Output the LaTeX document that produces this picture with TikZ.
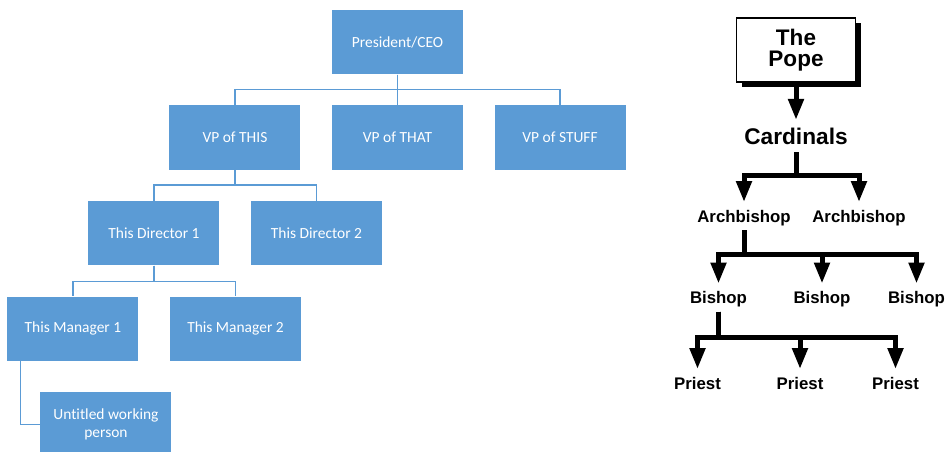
\documentclass[tikz,border=0pt]{standalone}
\usepackage{fontspec}
\setmainfont{Carlito}[Ligatures=NoCommon]
\newfontfamily\helv{Liberation Sans}
\usepackage{tikz}
\usetikzlibrary{positioning, arrows.meta, shadows}
\definecolor{officeblue}{HTML}{5B9BD5}

\begin{document}
\begin{tikzpicture}[
        x=0.75pt, y=-0.75pt,
        node distance=22.9pt and 23.25pt,
        box/.style={rectangle, fill=officeblue, text=white, minimum width=98.25pt, minimum height=48.4pt, align=center, font=\fontsize{11.6}{13}\selectfont},
        link/.style={draw=officeblue, line width=1pt},
        popebox/.style={rectangle, draw=black, line width=0.9pt, fill=white, minimum width=89.25pt, minimum height=48pt, align=center, font=\helv\bfseries\fontsize{16.9}{15.75}\selectfont, drop shadow={shadow xshift=3.75pt, shadow yshift=-3.75pt, fill=black, opacity=1}},
        rank/.style={inner sep=0pt, outer sep=6pt, text height=9pt, text depth=0pt, font=\helv\bfseries\fontsize{12.6}{14}\selectfont},
        arrow/.style={-{Triangle[length=15.75pt, width=11.25pt]}, line width=3.75pt, line join=miter}
        ]
        \useasboundingbox (0,0) rectangle (945,451);

        % corporate chart
        \node[box] (ceo) at (397.5,42) {President/CEO};
        \node[box, below=of ceo] (vpthat) {VP of THAT};
        \node[box, left=of vpthat] (vpthis) {VP of THIS};
        \node[box, right=of vpthat] (vpstuff) {VP of STUFF};
        \node[box, below=of vpthis, xshift=-60.75pt] (dirone) {This Director 1};
        \node[box, right=of dirone] (dirtwo) {This Director 2};
        \node[box, below=of dirone, xshift=-60.75pt] (mgrone) {This Manager 1};
        \node[box, right=of mgrone] (mgrtwo) {This Manager 2};
        \node[box, below=of mgrone, xshift=24.75pt] (worker) {Untitled working\\person};

        \draw[link] (ceo.south) -- (vpthat.north);
        \draw[link] (ceo.south) -- ++(0,15) -| (vpthis.north);
        \draw[link] (ceo.south) -- ++(0,15) -| (vpstuff.north);
        \draw[link] (vpthis.south) -- ++(0,15) -| (dirone.north);
        \draw[link] (vpthis.south) -- ++(0,15) -| (dirtwo.north);
        \draw[link] (dirone.south) -- ++(0,15.5) -| (mgrone.north);
        \draw[link] (dirone.south) -- ++(0,15.5) -| (mgrtwo.north);
        \draw[link] ([xshift=9.75pt]mgrone.south west) |- (worker.west);

        % church chart
        \node[popebox] (pope) at (796,50) {The\\Pope};
        \node[rank, text height=12.2pt, font=\helv\bfseries\fontsize{17}{19}\selectfont] (cardinals) at (796,136) {Cardinals};
        \node[rank] (archone) at (744,216) {Archbishop};
        \node[rank] (archtwo) at (859,216) {Archbishop};
        \node[rank] (bishopone) at (718.5,297.5) {Bishop};
        \node[rank] (bishoptwo) at (822,297.5) {Bishop};
        \node[rank] (bishopthree) at (916.5,297.5) {Bishop};
        \node[rank] (priestone) at (697.5,383) {Priest};
        \node[rank] (priesttwo) at (800,383) {Priest};
        \node[rank] (priestthree) at (895.5,383) {Priest};

        \draw[arrow] (pope) -- (cardinals);
        \draw[arrow] (cardinals.south) -- ++(0,23) -| (archone.north);
        \draw[arrow] (cardinals.south) -- ++(0,23) -| (archtwo.north);
        \draw[arrow] (archone.south) -- ++(0,24.5) -| (bishopone.north);
        \draw[arrow] (archone.south) -- ++(0,24.5) -| (bishoptwo.north);
        \draw[arrow] (archone.south) -- ++(0,24.5) -| (bishopthree.north);
        \draw[arrow] (bishopone.south) -- ++(0,26) -| (priestone.north);
        \draw[arrow] (bishopone.south) -- ++(0,26) -| (priesttwo.north);
        \draw[arrow] (bishopone.south) -- ++(0,26) -| (priestthree.north);
    \end{tikzpicture}
\end{document}
